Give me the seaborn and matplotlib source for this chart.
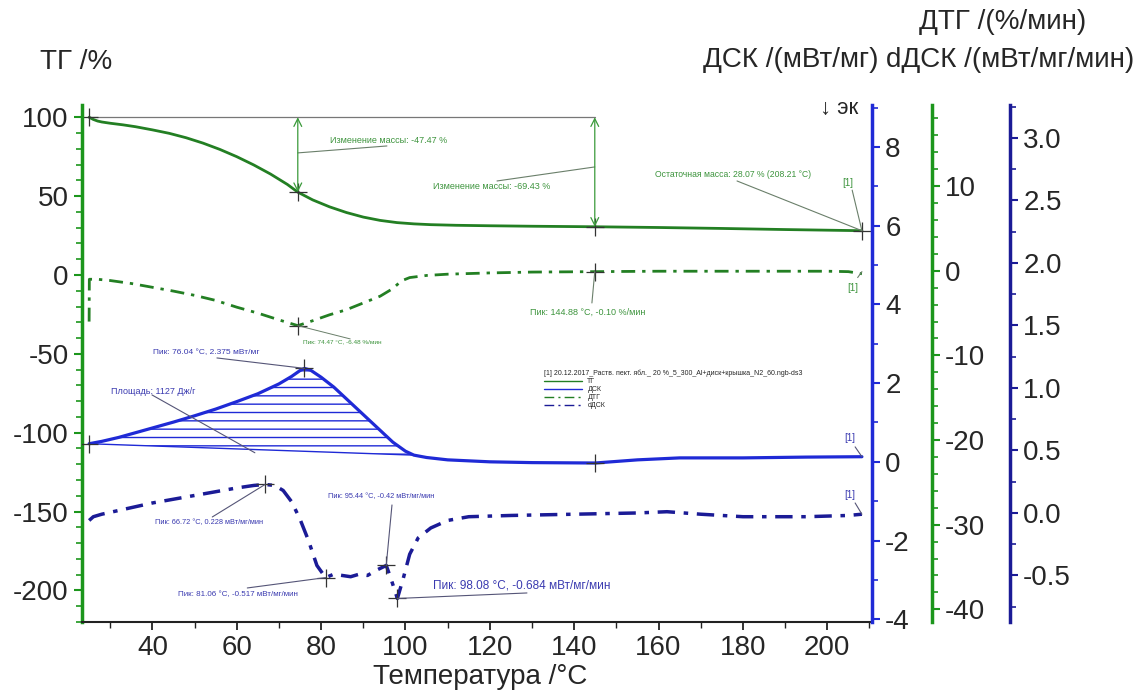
import numpy as np
import matplotlib
matplotlib.use('Agg')
import matplotlib.pyplot as plt
import seaborn as sns
from matplotlib.lines import Line2D
from matplotlib.ticker import MultipleLocator, FormatStrFormatter

sns.set_style('ticks')
plt.rcParams['font.family'] = ['Liberation Sans', 'DejaVu Sans']
plt.rcParams['axes.unicode_minus'] = False
plt.rcParams['hatch.linewidth'] = 1.0

# ---------------- data ----------------
tg_T = [25.0, 26.0, 27.0, 28.0, 30.0, 33.0, 36.0, 40.0, 44.0, 48.0, 52.0, 56.0, 60.0,
        64.0, 68.0, 72.0, 74.47, 78.0, 82.0, 86.0, 90.0, 94.0, 98.0, 102.0, 106.0,
        112.0, 120.0, 130.0, 144.88, 160.0, 175.0, 190.0, 200.0, 208.21]
tg_val = [100.0, 98.6, 97.6, 97.0, 96.2, 95.2, 94.0, 92.0, 89.8, 87.0, 83.6, 79.6, 75.0,
          69.8, 64.0, 57.4, 52.53, 47.6, 43.2, 39.6, 36.7, 34.6, 33.2, 32.4, 31.9,
          31.5, 31.2, 30.9, 30.57, 30.1, 29.5, 28.8, 28.4, 28.07]

dtg_T = [25.0, 25.05, 27, 30, 35, 40, 45, 50, 55, 60, 65, 70, 74.47, 78, 82, 86, 90, 94,
         97, 99, 101, 105, 110, 120, 130, 144.88, 160, 180, 200, 205, 208.21]
dtg_val = [-6.0, -1.0, -1.0, -1.15, -1.5, -1.95, -2.4, -2.9, -3.5, -4.3, -5.0, -5.8, -6.48,
           -5.9, -5.2, -4.6, -3.8, -3.0, -2.1, -1.2, -0.8, -0.55, -0.4, -0.25, -0.15, -0.10,
           -0.05, -0.05, -0.05, -0.1, -0.35]

dsc_T = [25, 28, 32, 36, 40, 45, 50, 55, 60, 65, 70, 73, 75, 76.04, 77.5, 80, 83, 86, 90,
         94, 97, 100, 102, 105, 110, 120, 130, 145, 155, 165, 180, 195, 208.21]
dsc_val = [0.46, 0.52, 0.62, 0.74, 0.86, 1.01, 1.17, 1.34, 1.53, 1.73, 1.98, 2.17, 2.32,
           2.375, 2.33, 2.15, 1.9, 1.6, 1.2, 0.8, 0.5, 0.27, 0.17, 0.11, 0.05, 0.0, -0.02,
           -0.03, 0.05, 0.1, 0.1, 0.12, 0.13]

ddsc_T = [25, 26, 28, 32, 36, 40, 45, 50, 55, 60, 64, 66.72, 69, 71, 73, 75, 77, 79, 81.06,
          83, 85, 87, 89, 91, 93, 95.44, 96.5, 98.08, 99.5, 101, 103, 106, 110, 115, 125,
          140, 155, 162, 170, 180, 195, 205, 208.21]
ddsc_val = [-0.06, -0.03, -0.01, 0.02, 0.05, 0.08, 0.11, 0.14, 0.17, 0.2, 0.22, 0.228, 0.22,
            0.18, 0.09, -0.05, -0.22, -0.42, -0.517, -0.49, -0.5, -0.51, -0.49, -0.5, -0.46,
            -0.42, -0.52, -0.684, -0.52, -0.33, -0.2, -0.12, -0.06, -0.03, -0.02, -0.01, 0.0,
            0.01, -0.01, -0.03, -0.03, -0.02, -0.01]

# integration limits of the DSC peak (start / end index in dsc arrays)
area_start, area_end = 0, 22

x_ticks = [40, 60, 80, 100, 120, 140, 160, 180, 200]
tg_ticks = [-200, -150, -100, -50, 0, 50, 100]
dsc_ticks = [-4, -2, 0, 2, 4, 6, 8]
dtg_ticks = [-40, -30, -20, -10, 0, 10]
ddsc_ticks = [-0.5, 0.0, 0.5, 1.0, 1.5, 2.0, 2.5, 3.0]

GREEN = '#237f23'
GREEN_AX = '#1c961c'
BLUE = '#1f2ad6'
NAVY = '#1b1b96'
TXT_G = '#3d943d'
TXT_B = '#3a3ab0'
LEAD = '#6a7f6a'

fig = plt.figure(figsize=(11.43, 6.9), dpi=100)
ax = fig.add_axes([0.0717, 0.0986, 0.6912, 0.7493])
ax_dsc = ax.twinx()
ax_dtg = ax.twinx()
ax_ddsc = ax.twinx()
ax_dtg.spines['right'].set_position(('axes', 1.076))
ax_ddsc.spines['right'].set_position(('axes', 1.1747))

# curves
sns.lineplot(x=tg_T, y=tg_val, ax=ax, color=GREEN, lw=2.0, estimator=None, sort=False)
sns.lineplot(x=dtg_T, y=dtg_val, ax=ax_dtg, color=GREEN, lw=2.0, estimator=None, sort=False,
             linestyle=(0, (5, 2.5, 1.2, 2.5)))
sns.lineplot(x=dsc_T, y=dsc_val, ax=ax_dsc, color=BLUE, lw=2.3, estimator=None, sort=False)
sns.lineplot(x=ddsc_T, y=ddsc_val, ax=ax_ddsc, color=NAVY, lw=2.5, estimator=None, sort=False,
             linestyle=(0, (5, 2.5, 1.3, 2.5)))

# DSC area (hatched) and baseline
pT = dsc_T[area_start:area_end + 1]
pV = dsc_val[area_start:area_end + 1]
ax_dsc.fill(pT, pV, facecolor='none', edgecolor=BLUE, hatch='--', linewidth=0)
ax_dsc.plot([dsc_T[area_start], dsc_T[area_end]], [dsc_val[area_start], dsc_val[area_end]],
            color=BLUE, lw=1.0)

# limits
for a in (ax, ax_dsc, ax_dtg, ax_ddsc):
    a.set_xlim(23.3, 210.6)
ax.set_ylim(-220.0, 107.8)
ax_dsc.set_ylim(-4.07, 9.07)
ax_dtg.set_ylim(-41.5, 19.6)
ax_ddsc.set_ylim(-0.872, 3.264)

# spines
for a in (ax, ax_dsc, ax_dtg, ax_ddsc):
    a.spines['top'].set_visible(False)
    a.set_xlabel('')
    a.set_ylabel('')
for a in (ax_dsc, ax_dtg, ax_ddsc):
    a.spines['left'].set_visible(False)
    a.spines['bottom'].set_visible(False)
ax.spines['right'].set_visible(False)
ax.spines['left'].set_color(GREEN_AX)
ax.spines['left'].set_linewidth(2.5)
ax.spines['bottom'].set_color('#222222')
ax.spines['bottom'].set_linewidth(1.5)
ax_dsc.spines['right'].set_color(BLUE)
ax_dsc.spines['right'].set_linewidth(2.5)
ax_dtg.spines['right'].set_color(GREEN_AX)
ax_dtg.spines['right'].set_linewidth(2.5)
ax_ddsc.spines['right'].set_color(NAVY)
ax_ddsc.spines['right'].set_linewidth(2.5)

LS = 20
TS = 20
ax.set_xticks(x_ticks)
ax.xaxis.set_minor_locator(MultipleLocator(10))
ax.tick_params(axis='x', which='major', length=6, width=1.3, color='#222222', labelsize=LS)
ax.tick_params(axis='x', which='minor', length=4, width=1.0, color='#222222')
ax.set_yticks(tg_ticks)
ax.yaxis.set_minor_locator(MultipleLocator(10))
ax.tick_params(axis='y', which='major', length=6, width=1.5, color=GREEN_AX, labelsize=LS)
ax.tick_params(axis='y', which='minor', length=4, width=1.2, color=GREEN_AX)

ax_dsc.set_yticks(dsc_ticks)
ax_dsc.yaxis.set_minor_locator(MultipleLocator(1))
ax_dsc.tick_params(axis='y', which='major', length=6, width=1.5, color=BLUE, labelsize=LS)
ax_dsc.tick_params(axis='y', which='minor', length=4, width=1.2, color=BLUE)
ax_dtg.set_yticks(dtg_ticks)
ax_dtg.yaxis.set_minor_locator(MultipleLocator(2))
ax_dtg.tick_params(axis='y', which='major', length=6, width=1.5, color=GREEN_AX, labelsize=LS)
ax_dtg.tick_params(axis='y', which='minor', length=4, width=1.2, color=GREEN_AX)
ax_ddsc.set_yticks(ddsc_ticks)
ax_ddsc.yaxis.set_major_formatter(FormatStrFormatter('%.1f'))
ax_ddsc.yaxis.set_minor_locator(MultipleLocator(0.25))
ax_ddsc.tick_params(axis='y', which='major', length=6, width=1.5, color=NAVY, labelsize=LS)
ax_ddsc.tick_params(axis='y', which='minor', length=4, width=1.2, color=NAVY)
for a in (ax_dsc, ax_dtg, ax_ddsc):
    a.tick_params(axis='x', which='both', bottom=False, labelbottom=False)

# axis titles
fig.text(0.0665, 0.910, 'ТГ /%', fontsize=TS, ha='center', va='center')
fig.text(0.8775, 0.968, 'ДТГ /(%/мин)', fontsize=TS, ha='center', va='center')
fig.text(0.7685, 0.913, 'ДСК /(мВт/мг)', fontsize=TS, ha='right', va='center')
fig.text(0.7755, 0.913, 'dДСК /(мВт/мг/мин)', fontsize=TS, ha='left', va='center')
fig.text(0.42, 0.019, 'Температура /°C', fontsize=TS, ha='center', va='center')
ax.text(0.959, 0.994, '↓ эк', transform=ax.transAxes, fontsize=16, ha='center', va='center')

# ---------- TG annotations ----------
tg_i0, tg_i1, tg_i2, tg_i3 = 0, tg_T.index(74.47), tg_T.index(144.88), len(tg_T) - 1
ax.plot([tg_T[tg_i0], tg_T[tg_i2]], [tg_val[tg_i0], tg_val[tg_i0]], color='#777777', lw=0.9)
mk = dict(marker='+', ms=13, mew=0.9, color='#333333', linestyle='none')
ax.plot([tg_T[i] for i in (tg_i0, tg_i1, tg_i2, tg_i3)],
        [tg_val[i] for i in (tg_i0, tg_i1, tg_i2, tg_i3)], **mk)
for i in (tg_i1, tg_i2):
    ax.annotate('', xy=(tg_T[i], tg_val[i]), xytext=(tg_T[i], tg_val[tg_i0]),
                arrowprops=dict(arrowstyle='<->', color='#3a9a3a', lw=0.9,
                                shrinkA=0, shrinkB=0, mutation_scale=14))
ax.plot([74.47, 95.6], [77.4, 81.8], color=LEAD, lw=0.8)
ax.text(82.1, 85.0, 'Изменение массы: -47.47 %', fontsize=6.5, color=TXT_G, va='center')
ax.plot([121.7, 144.88], [59.6, 68.5], color=LEAD, lw=0.8)
ax.text(106.5, 56.4, 'Изменение массы: -69.43 %', fontsize=6.5, color=TXT_G, va='center')
ax.plot([178.6, 208.21], [59.6, 28.07], color=LEAD, lw=0.8)
ax.text(159.2, 64.0, 'Остаточная масса: 28.07 % (208.21 °C)', fontsize=6.2, color=TXT_G,
        va='center')
ax.plot([205.9, 208.21], [53.8, 28.07], color=LEAD, lw=0.8)
ax.text(204.9, 58.3, '[1]', fontsize=7, color=TXT_G, va='center', ha='center')

# ---------- DTG annotations ----------
d1, d2 = dtg_T.index(74.47), dtg_T.index(144.88)
ax_dtg.plot([dtg_T[d1], dtg_T[d2]], [dtg_val[d1], dtg_val[d2]], **mk)
ax_dtg.plot([74.47, 86.9], [-6.48, -8.05], color=LEAD, lw=0.7)
ax_dtg.text(75.7, -8.4, 'Пик: 74.47 °C, -6.48 %/мин', fontsize=4.6, color=TXT_G, va='center')
ax_dtg.plot([144.88, 144.2], [-0.10, -3.8], color=LEAD, lw=0.8)
ax_dtg.text(129.5, -4.85, 'Пик: 144.88 °C, -0.10 %/мин', fontsize=6.5, color=TXT_G,
            va='center')
ax_dtg.plot([207.2, 208.21], [-0.8, -0.1], color=LEAD, lw=0.8)
ax_dtg.text(206.1, -2.0, '[1]', fontsize=7, color=TXT_G, va='center', ha='center')

# ---------- DSC annotations ----------
s1 = dsc_T.index(76.04)
s2 = dsc_T.index(145)
ax_dsc.plot([dsc_T[0], dsc_T[s1], dsc_T[s2]], [dsc_val[0], dsc_val[s1], dsc_val[s2]], **mk)
ax_dsc.plot([55.3, 76.04], [2.64, 2.375], color='#555577', lw=0.8)
ax_dsc.text(40.2, 2.77, 'Пик: 76.04 °C, 2.375 мВт/мг', fontsize=6.0, color=TXT_B,
            va='center')
ax_dsc.plot([39.9, 64.3], [1.70, 0.23], color='#555577', lw=0.8)
ax_dsc.text(30.2, 1.78, 'Площадь: 1127 Дж/г', fontsize=6.5, color=TXT_B, va='center')
ax_dsc.plot([206.6, 208.21], [0.38, 0.13], color='#555577', lw=0.8)
ax_dsc.text(205.4, 0.61, '[1]', fontsize=7, color=TXT_B, va='center', ha='center')

# ---------- dDSC annotations ----------
pk = [ddsc_T.index(t) for t in (66.72, 81.06, 95.44, 98.08)]
ax_ddsc.plot([ddsc_T[i] for i in pk], [ddsc_val[i] for i in pk], **mk)
ax_ddsc.plot([54.2, 66.72], [-0.032, 0.228], color='#555577', lw=0.8)
ax_ddsc.text(40.6, -0.08, 'Пик: 66.72 °C, 0.228 мВт/мг/мин', fontsize=5.3, color=TXT_B,
             va='center')
ax_ddsc.plot([96.8, 95.44], [0.064, -0.42], color='#555577', lw=0.8)
ax_ddsc.text(81.6, 0.128, 'Пик: 95.44 °C, -0.42 мВт/мг/мин', fontsize=5.3, color=TXT_B,
             va='center')
ax_ddsc.plot([62.5, 81.06], [-0.60, -0.517], color='#555577', lw=0.8)
ax_ddsc.text(46.1, -0.656, 'Пик: 81.06 °C, -0.517 мВт/мг/мин', fontsize=5.8, color=TXT_B,
             va='center')
ax_ddsc.plot([98.08, 128.8], [-0.684, -0.64], color='#555577', lw=0.8)
ax_ddsc.text(106.5, -0.584, 'Пик: 98.08 °C, -0.684 мВт/мг/мин', fontsize=8.5, color=TXT_B,
             va='center')
ax_ddsc.plot([206.6, 208.21], [0.08, -0.01], color='#555577', lw=0.8)
ax_ddsc.text(205.4, 0.144, '[1]', fontsize=7, color=TXT_B, va='center', ha='center')

# ---------- legend ----------
handles = [Line2D([], [], color=GREEN, lw=1.0),
           Line2D([], [], color=BLUE, lw=1.0),
           Line2D([], [], color=GREEN, lw=1.0, linestyle=(0, (7, 3, 1.5, 3))),
           Line2D([], [], color=NAVY, lw=1.0, linestyle=(0, (7, 3, 1.5, 3)))]
leg = ax_ddsc.legend(handles, ['ТГ', 'ДСК', 'ДТГ', 'dДСК'],
                     title='[1] 20.12.2017_Раств. пект. ябл._ 20 %_5_300_Al+диск+крышка_N2_60.ngb-ds3',
                     loc='upper left', bbox_to_anchor=(0.58, 0.495), frameon=False,
                     fontsize=5, title_fontsize=5, handlelength=5.5, labelspacing=0.15,
                     borderpad=0, handletextpad=0.8)
leg._legend_box.align = 'left'

fig.savefig('out.png', dpi=100)
